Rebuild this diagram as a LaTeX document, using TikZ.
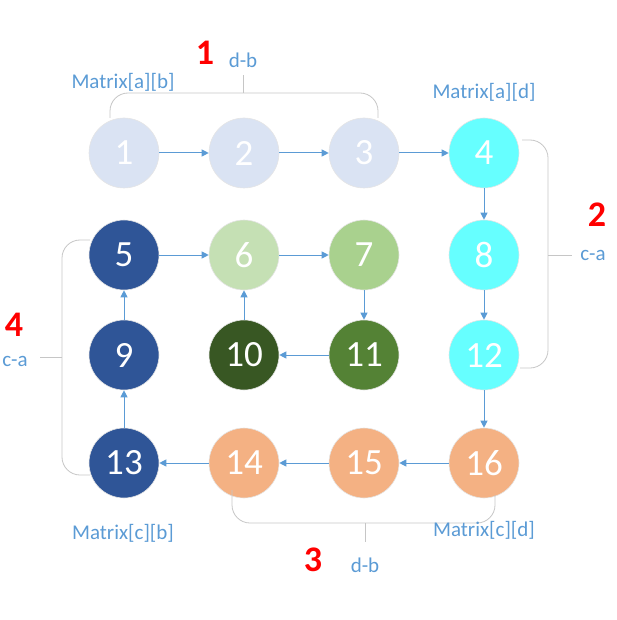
\documentclass[tikz,border=0pt]{standalone}
\usepackage{fontspec}
\setmainfont{Carlito}
\usetikzlibrary{arrows.meta}
\definecolor{lav}{HTML}{DAE3F3}
\definecolor{cy}{HTML}{66FFFF}
\definecolor{dblue}{HTML}{2F5597}
\definecolor{lg}{HTML}{C5E0B4}
\definecolor{mg}{HTML}{A9D18E}
\definecolor{dg}{HTML}{385723}
\definecolor{gg}{HTML}{548235}
\definecolor{org}{HTML}{F4B183}
\definecolor{ab}{HTML}{5B9BD5}
\tikzset{
 cell/.style={circle,minimum size=70pt,inner sep=0pt,draw=white!80!gray,line width=0.6pt,text=white,font=\fontsize{37}{40}\selectfont},
 arr/.style={-{Triangle[length=7pt,width=7pt]},draw=ab,line width=1pt},
 br/.style={draw=gray!45,line width=0.8pt,rounded corners=18pt},
 tk/.style={draw=gray!45,line width=0.8pt},
 lab/.style={text=ab,font=\fontsize{21}{23}\selectfont},
 num/.style={text=red,font=\bfseries\fontsize{36}{38}\selectfont}
}
\begin{document}
\begin{tikzpicture}[x=1pt,y=-1pt]
\useasboundingbox (0,0) rectangle (616,620);
\foreach \n/\x/\y/\c in {1/124/153/lav,2/244/153/lav,3/364/153/lav,4/484/153/cy,
 5/124/255/dblue,6/244/255/lg,7/364/255/mg,8/484/255/cy,
 9/124/355/dblue,10/244/355/dg,11/364/355/gg,12/484/355/cy,
 13/124/463/dblue,14/244/463/org,15/364/463/org,16/484/463/org}
 \node[cell,fill=\c] (n\n) at (\x,\y) {\n};
\foreach \a/\b in {1/2,2/3,3/4,4/8,8/12,12/16,16/15,15/14,14/13,13/9,9/5,5/6,6/7,7/11,11/10,10/6}
 \draw[arr] (n\a) -- (n\b);
% top brace
\draw[br] (110,118) -- (110,93) -- (378,93) -- (378,118);
\coordinate (tt) at (243,75);
\draw[tk] (243,93) -- (tt);
\node[lab] (tl) at (243,60) {d-b};
\node[num] (t1) at (205,53) {1};
% right brace
\draw[br] (522,140) -- (548,140) -- (548,368) -- (520,368);
\coordinate (rt) at (572,255);
\draw[tk] (548,255) -- (rt);
\node[lab] (rl) at (593,255) {c-a};
\node[num] (r2) at (597,215) {2};
% bottom brace
\draw[br] (232,490) -- (232,523) -- (495,523) -- (495,495);
\coordinate (bt) at (365,542);
\draw[tk] (365,523) -- (bt);
\node[lab] (bl) at (365,565) {d-b};
\node[num] (b3) at (313,560) {3};
% left brace
\draw[br] (90,240) -- (62,240) -- (62,475) -- (90,475);
\coordinate (lt) at (40,357);
\draw[tk] (62,357) -- (lt);
\node[lab] (ll) at (15,361) {c-a};
\node[num] (l4) at (14,325) {4};
\node[lab] (m1) at (123,82) {Matrix[a][b]};
\node[lab] (m2) at (484,92) {Matrix[a][d]};
\node[lab] (m3) at (123,533) {Matrix[c][b]};
\node[lab] (m4) at (484,530) {Matrix[c][d]};
\end{tikzpicture}
\end{document}
